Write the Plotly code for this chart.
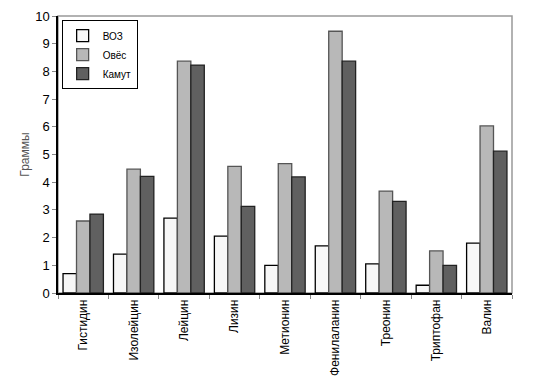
import plotly.graph_objects as go

categories = ["Гистидин", "Изолейцин", "Лейцин", "Лизин", "Метионин",
              "Фенилаланин", "Треонин", "Триптофан", "Валин"]
voz = [0.7, 1.4, 2.7, 2.05, 1.0, 1.7, 1.05, 0.28, 1.8]
oves = [2.6, 4.47, 8.37, 4.57, 4.67, 9.45, 3.68, 1.52, 6.03]
kamut = [2.85, 4.21, 8.23, 3.13, 4.19, 8.37, 3.31, 1.0, 5.12]
y_ticks = list(range(0, 11))

FONT = "Liberation Sans Narrow, Arial Narrow, Liberation Sans, Arial, sans-serif"

fig = go.Figure()
fig.add_trace(go.Bar(name="ВОЗ", x=categories, y=voz,
                     marker=dict(color="#f7f7f7", line=dict(color="#000000", width=1.3))))
fig.add_trace(go.Bar(name="Овёс", x=categories, y=oves,
                     marker=dict(color="#b8b8b8", line=dict(color="#555555", width=1.3))))
fig.add_trace(go.Bar(name="Камут", x=categories, y=kamut,
                     marker=dict(color="#606060", line=dict(color="#222222", width=1.3))))

fig.update_layout(
    width=529, height=383,
    margin=dict(l=50, r=25, t=8, b=98, autoexpand=False),
    paper_bgcolor="white", plot_bgcolor="white",
    barmode="group", bargap=0.2, bargroupgap=0,
    font=dict(family=FONT, size=12, color="black"),
    showlegend=True,
    legend=dict(x=0.008, y=0.985, xanchor="left", yanchor="top",
                bgcolor="white", bordercolor="black", borderwidth=1,
                font=dict(size=10, family=FONT), tracegroupgap=0,
                itemwidth=30),
    shapes=[dict(type="rect", xref="paper", yref="paper", x0=0, x1=1, y0=0, y1=1,
                 line=dict(color="#999999", width=1.5), layer="below")],
)
fig.update_xaxes(showline=True, linecolor="black", linewidth=1.5, automargin=False,
                 ticks="outside", tickson="boundaries", ticklen=4, tickcolor="#888888",
                 tickangle=-90, showgrid=False, tickfont=dict(size=12))
fig.update_yaxes(range=[0, 10], tickvals=y_ticks, showline=True, linecolor="black",
                 linewidth=1.5, ticks="outside", ticklen=4, tickcolor="#888888",
                 showgrid=False, zeroline=False, automargin=False,
                 tickfont=dict(size=13),
                 title=dict(text="Граммы", font=dict(size=12, color="#555555"), standoff=3))

fig.write_html("out.html")
